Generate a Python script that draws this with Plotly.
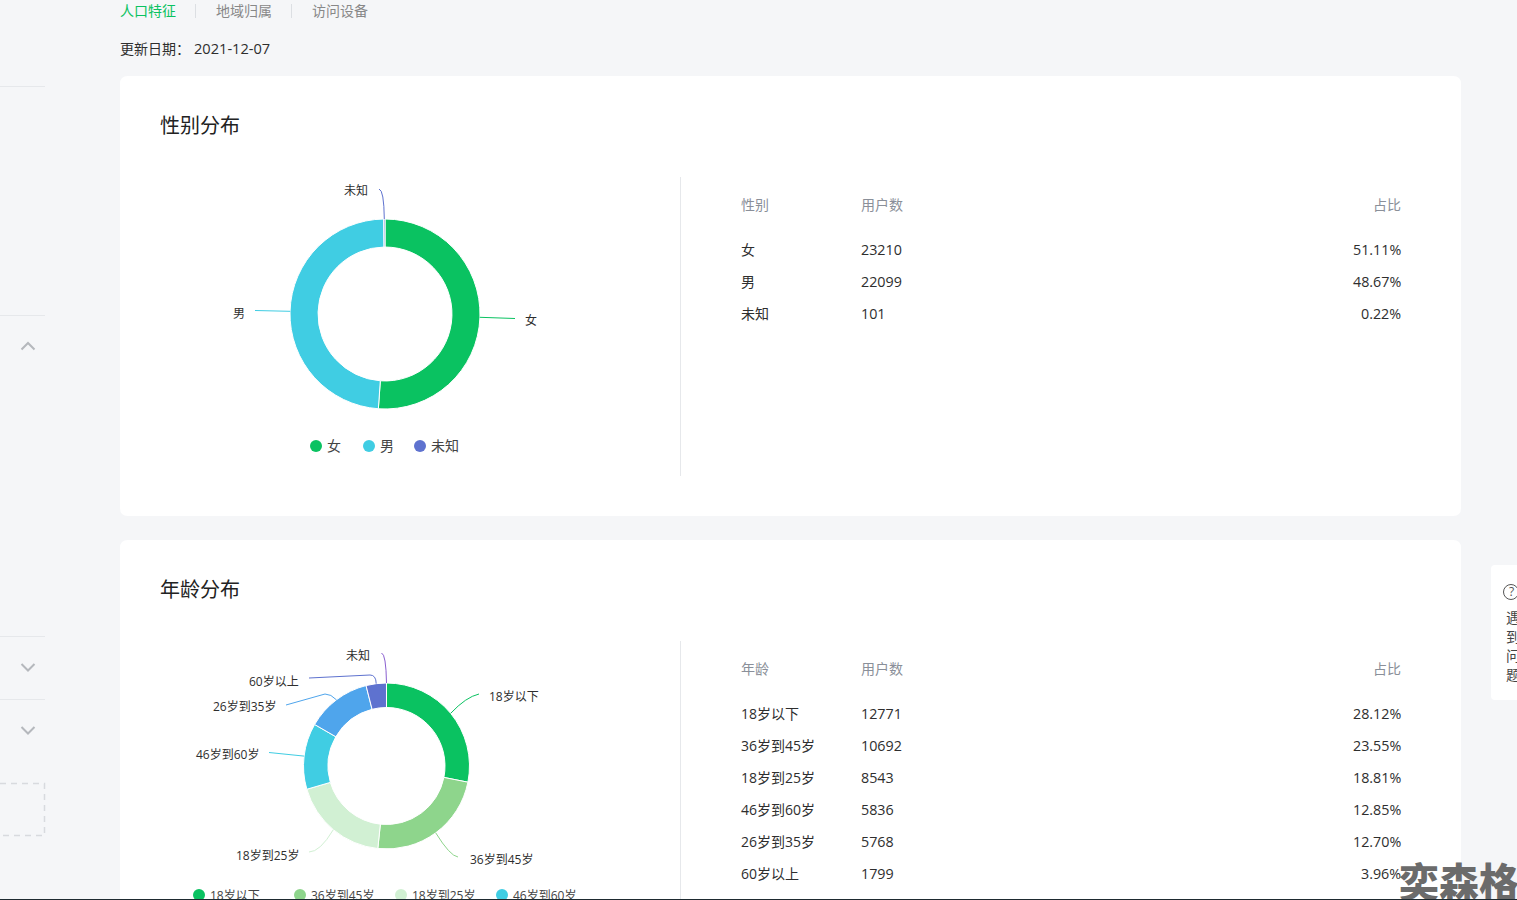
import math
import plotly.graph_objects as go

gender_names = ["女", "男", "未知"]
gender_users = [23210, 22099, 101]
gender_share = ["51.11%", "48.67%", "0.22%"]
gender_colors = ["#0ac261", "#40cde3", "#5e72cf"]

age_names = ["18岁以下", "36岁到45岁", "18岁到25岁", "46岁到60岁", "26岁到35岁", "60岁以上", "未知"]
age_users = [12771, 10692, 8543, 5836, 5768, 1799, 1]
age_share = ["28.12%", "23.55%", "18.81%", "12.85%", "12.70%", "3.96%"]
age_colors = ["#0ac261", "#8ed58c", "#d1f0d3", "#40cde3", "#4fa5ec", "#5e72cf", "#8a5fd0"]

W, H = 1517, 899
BG = "#f5f6f8"
CJK = "Noto Sans CJK SC"
MIX = "Open Sans, Noto Sans CJK SC"
TXT = "#2e2e2e"
GREY = "#8a8f99"

shapes, notes = [], []


def text(x, y, s, size=14, color=TXT, anchor="left", weight=None, family=MIX):
    f = dict(family=family, size=size, color=color)
    if weight:
        f["weight"] = weight
    notes.append(dict(x=x, y=y - 0.6, xref="x", yref="y", text=s, showarrow=False,
                      xanchor=anchor, yanchor="middle", font=f, borderpad=0, borderwidth=0))


def path(d, color="#e6e8eb", width=1, fill=None, dash=None, layer="above"):
    line = dict(color=color, width=width)
    if dash:
        line["dash"] = dash
    s = dict(type="path", path=d, xref="x", yref="y", line=line, layer=layer)
    if fill:
        s["fillcolor"] = fill
    shapes.append(s)


def card(x0, y0, x1, y1, r):
    path(f"M{x0+r},{y0} L{x1-r},{y0} Q{x1},{y0} {x1},{y0+r} L{x1},{y1-r} Q{x1},{y1} {x1-r},{y1} "
         f"L{x0+r},{y1} Q{x0},{y1} {x0},{y1-r} L{x0},{y0+r} Q{x0},{y0} {x0+r},{y0} Z",
         color="rgba(0,0,0,0)", width=0, fill="#ffffff", layer="below")


def donut_domain(cx, cy, R):
    return dict(x=[(cx - R) / W, (cx + R) / W], y=[1 - (cy + R) / H, 1 - (cy - R) / H])


def leader_starts(values, cx, cy, R):
    total = sum(values)
    out, acc = [], 0
    for v in values:
        a = (acc + v / 2) / total * 2 * math.pi
        out.append((cx + R * math.sin(a), cy - R * math.cos(a)))
        acc += v
    return out


# page chrome
card(120, 76, 1461, 516, 8)
card(120, 540, 1461, 960, 8)
card(1491, 565, 1560, 700, 4)
for y in (86.5, 315.5, 636.5, 699.5):
    path(f"M0,{y} L45,{y}")
path("M21.5,349.5 L28,343 L34.5,349.5", color="#b5b8bd", width=2)
path("M21.5,664 L28,670.5 L34.5,664", color="#b5b8bd", width=2)
path("M21.5,727 L28,733.5 L34.5,727", color="#b5b8bd", width=2)
path("M0,783.5 L44.5,783.5 L44.5,835.5 L0,835.5", color="#d8dade", width=1.5, dash="6px,5px")
path("M195.5,4 L195.5,18", color="#dcdfe3")
path("M291.5,4 L291.5,18", color="#dcdfe3")
path("M680.5,177 L680.5,476")
path("M680.5,641 L680.5,900")

text(120, 11, "人口特征", color="#0ac261")
text(216, 11, "地域归属", color="#888888")
text(312, 11, "访问设备", color="#888888")
text(120, 49, "更新日期：")
text(194, 49, "2021-12-07", size=14.6)
text(160, 126, "性别分布", size=20, color="#222222")
text(160, 590, "年龄分布", size=20, color="#222222")

# feedback tab
shapes.append(dict(type="circle", xref="x", yref="y", x0=1503.5, x1=1518.5, y0=584.5, y1=599.5,
                   line=dict(color="#555555", width=1), layer="above"))
text(1511.5, 592.5, "?", size=12, color="#555555", anchor="center")
for yy, ch in zip((618, 637, 656, 675), "遇到问题"):
    text(1506, yy, ch, size=14, color="#444444")


def table(head_y, rows_y, head, names, users, share):
    text(741, head_y, head, color=GREY)
    text(861, head_y, "用户数", color=GREY)
    text(1401, head_y, "占比", color=GREY, anchor="right")
    for y, n, u, p in zip(rows_y, names, users, share):
        text(741, y, n)
        text(861, y, str(u), size=14.3)
        text(1401, y, p, anchor="right", size=14.3)


table(205, (250, 282, 314), "性别", gender_names, gender_users, gender_share)
table(669, (714, 746, 778, 810, 842, 874), "年龄", age_names, age_users, age_share)

# gender donut
G = (385, 314, 95)
g_starts = leader_starts(gender_users, *G)
g_tails = ["L515,318.5", "L255,310.5", "Q384,190 379,189"]
g_labels = [(531, 321), (239, 314), (356, 191)]
for (sx, sy), tail, c, n, (lx, ly) in zip(g_starts, g_tails, gender_colors, gender_names, g_labels):
    path(f"M{sx:.1f},{sy:.1f} {tail}", color=c, width=1)
    text(lx, ly, n, size=12, anchor="center")

# age donut
A = (386.5, 766, 83)
a_starts = leader_starts(age_users, *A)
a_tails = ["Q466,697 479,694", "Q450,856 458,857", "Q320,852 309,852", "L269,752.5",
           "Q331,694 325,694 L286,705", "Q376,675 370,675 L309,678", "Q386,654 381.5,653"]
a_labels = [(514, 697), (501, 860), (267, 856), (227, 755), (244, 707), (274, 682), (358, 656)]
for (sx, sy), tail, c, n, (lx, ly) in zip(a_starts, a_tails, age_colors, age_names, a_labels):
    path(f"M{sx:.1f},{sy:.1f} {tail}", color=c, width=1)
    text(lx, ly, n, size=12, anchor="center")

fig = go.Figure()
for names, vals, cols, dom in ((gender_names, gender_users, gender_colors, G),
                               (age_names, age_users, age_colors, A)):
    fig.add_trace(go.Pie(labels=names, values=vals, hole=0.705, sort=False, direction="clockwise",
                         rotation=0, textinfo="none", showlegend=False, domain=donut_domain(*dom),
                         marker=dict(colors=cols, line=dict(color="#ffffff", width=1))))

# legends
g_leg_x, g_leg_y = [316, 369, 420], 446
a_leg_x, a_leg_y = [199, 300, 401, 502], 895
fig.add_trace(go.Scatter(x=g_leg_x, y=[g_leg_y] * 3, mode="markers", showlegend=False, hoverinfo="skip",
                         marker=dict(size=12, color=gender_colors)))
fig.add_trace(go.Scatter(x=a_leg_x, y=[a_leg_y] * 4, mode="markers", showlegend=False, hoverinfo="skip",
                         cliponaxis=False, marker=dict(size=12, color=age_colors[:4])))
for x, n in zip(g_leg_x, gender_names):
    text(x + 11, g_leg_y, n, size=14, color="#444444")
for x, n in zip(a_leg_x, age_names[:4]):
    text(x + 11, a_leg_y + 1, n, size=12, color="#444444")

# watermark
text(1459, 881, "奕森格", size=40, color="#6b6b6b", anchor="center", weight=900, family=CJK)

axis = dict(visible=False, showgrid=False, zeroline=False, fixedrange=True)
fig.update_layout(
    width=W, height=H, autosize=False,
    margin=dict(l=0, r=0, t=0, b=0, pad=0),
    paper_bgcolor=BG, plot_bgcolor="rgba(0,0,0,0)",
    xaxis=dict(range=[0, W], domain=[0, 1], **axis),
    yaxis=dict(range=[H, 0], domain=[0, 1], **axis),
    shapes=shapes, annotations=notes, font=dict(family=CJK),
)
fig.write_html("out.html", config=dict(displayModeBar=False),
               post_script="document.body.style.margin='0';document.body.style.background='#1e2a30';"
                           "document.documentElement.style.overflow='hidden';")
